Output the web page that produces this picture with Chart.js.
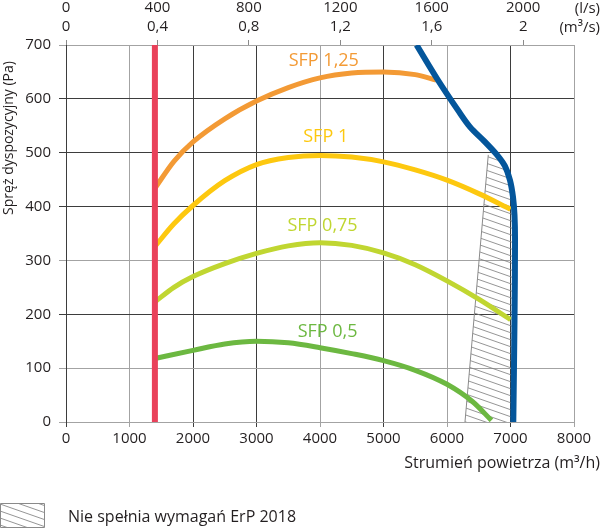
<!DOCTYPE html>
<html>
<head>
<meta charset="utf-8">
<script src="https://cdn.jsdelivr.net/npm/chart.js@4"></script>
<style>
  html, body { margin: 0; padding: 0; background: #fff; }
  #wrap { width: 601px; height: 529px; }
</style>
</head>
<body>
<div id="wrap"><canvas id="wykres"></canvas></div>
<script>
// osie
const flowTicks = [0, 1000, 2000, 3000, 4000, 5000, 6000, 7000, 8000];
const pressureTicks = [0, 100, 200, 300, 400, 500, 600, 700];
const lsTicks = [0, 400, 800, 1200, 1600, 2000];
const lsLabels = ["0", "400", "800", "1200", "1600", "2000"];
const m3sLabels = ["0", "0,4", "0,8", "1,2", "1,6", "2"];

// krzywe SFP (m3/h -> Pa)
const sfp125Flow = [1400, 1700, 2000, 2500, 3000, 3500, 4000, 4500, 5000, 5500, 5830];
const sfp125Pa = [434, 484, 520, 563, 596, 621, 639, 648, 650, 645, 635];
const sfp1Flow = [1400, 1700, 2000, 2500, 3000, 3500, 4000, 4500, 5000, 5500, 6000, 6500, 7000];
const sfp1Pa = [326, 368, 402, 448, 478, 491, 495, 492, 483, 468, 449, 424, 395];
const sfp075Flow = [1400, 1700, 2000, 2500, 3000, 3500, 4000, 4500, 5000, 5500, 6000, 6500, 7000];
const sfp075Pa = [223, 250, 270, 294, 313, 327, 333, 328, 314, 292, 262, 228, 190];
const sfp05Flow = [1400, 2000, 2500, 3000, 3500, 4000, 4500, 5000, 5500, 6000, 6400, 6700];
const sfp05Pa = [118, 133, 145, 150, 147, 138, 127, 114, 96, 70, 38, 3];

// charakterystyka maksymalna
const maxFlow = [5521, 5856, 6172, 6361, 6582, 6787, 6913, 6992, 7039, 7063, 7071, 7063, 7044];
const maxPa = [700, 635, 579, 548, 522, 496, 475, 449, 418, 384, 338, 189, 0];

// minimalny przeplyw
const minFlow = [1400, 1400];
const minPa = [0, 700];

// obszar niespelniajacy ErP 2018
const hatchFlow = [6283, 6650, 6787, 6913, 6992, 7039, 7063, 7071, 7063, 7044];
const hatchPa = [0, 496, 496, 475, 449, 418, 384, 338, 189, 0];

const sfpLabels = ["SFP 1,25", "SFP 1", "SFP 0,75", "SFP 0,5"];
const sfpLabelFlow = [4060, 4090, 4040, 4120];
const sfpLabelPa = [670, 529, 364, 167];
const sfpColors = ["#f39a35", "#fdc80f", "#c0d631", "#6cb841"];

const FONT = "'Open Sans', sans-serif";
const TEXT = "#231f20";
const DARK = "#3d3d3d";
const LIGHT = "#a3a3a3";
const xGridDark = [true, false, true, true, false, true, false, true, false];
const yGridDark = [false, false, true, false, true, true, true, false];

Chart.defaults.font.family = FONT;
Chart.defaults.color = TEXT;

function pts(xs, ys) {
  return xs.map((v, i) => ({ x: v, y: ys[i] }));
}

function hatchPattern(ctx) {
  const c = document.createElement("canvas");
  c.width = 20;
  c.height = 7;
  const g = c.getContext("2d");
  g.strokeStyle = "#7a7a7a";
  g.lineWidth = 0.8;
  for (const dy of [-7, 0, 7]) {
    g.beginPath();
    g.moveTo(0, dy);
    g.lineTo(20, dy + 7);
    g.stroke();
  }
  return ctx.createPattern(c, "repeat");
}

const opisy = {
  id: "opisy",
  beforeDatasetsDraw(chart) {
    const { ctx, scales: { x, y } } = chart;
    ctx.save();
    ctx.beginPath();
    hatchFlow.forEach((f, i) => {
      const px = x.getPixelForValue(f);
      const py = y.getPixelForValue(hatchPa[i]);
      if (i === 0) ctx.moveTo(px, py);
      else ctx.lineTo(px, py);
    });
    ctx.closePath();
    ctx.fillStyle = hatchPattern(ctx);
    ctx.fill();
    ctx.beginPath();
    ctx.moveTo(x.getPixelForValue(hatchFlow[0]), y.getPixelForValue(hatchPa[0]));
    ctx.lineTo(x.getPixelForValue(hatchFlow[1]), y.getPixelForValue(hatchPa[1]));
    ctx.strokeStyle = "#8a8a8a";
    ctx.lineWidth = 1;
    ctx.stroke();
    ctx.restore();
  },
  afterDraw(chart) {
    const { ctx, scales: { x, y } } = chart;
    ctx.save();
    ctx.textBaseline = "middle";

    ctx.font = "18px " + FONT;
    ctx.textAlign = "center";
    sfpLabels.forEach((t, i) => {
      ctx.fillStyle = sfpColors[i];
      ctx.fillText(t, x.getPixelForValue(sfpLabelFlow[i]), y.getPixelForValue(sfpLabelPa[i]));
    });

    ctx.fillStyle = TEXT;
    ctx.font = "15px " + FONT;
    ctx.textAlign = "right";
    ctx.fillText("(l/s)", 600, 9);
    ctx.fillText("(m³/s)", 600, 28);
    ctx.font = "16px " + FONT;
    ctx.fillText("Strumień powietrza (m³/h)", 600, 463);

    ctx.save();
    ctx.font = "14px " + FONT;
    ctx.translate(9, 138);
    ctx.rotate(-Math.PI / 2);
    ctx.textAlign = "center";
    ctx.fillText("Spręż dyspozycyjny (Pa)", 0, 0);
    ctx.restore();

    // legenda
    ctx.beginPath();
    ctx.rect(0.5, 503.5, 44, 24);
    ctx.fillStyle = hatchPattern(ctx);
    ctx.fill();
    ctx.strokeStyle = "#8a8a8a";
    ctx.lineWidth = 1;
    ctx.stroke();
    ctx.fillStyle = TEXT;
    ctx.font = "16px " + FONT;
    ctx.textAlign = "left";
    ctx.fillText("Nie spełnia wymagań ErP 2018", 68, 517);
    ctx.restore();
  }
};

const lineDs = (xs, ys, color, width, smooth) => ({
  data: pts(xs, ys),
  borderColor: color,
  borderWidth: width,
  pointRadius: 0,
  tension: 0.35,
  cubicInterpolationMode: smooth ? "monotone" : "default",
  fill: false
});

new Chart(document.getElementById("wykres"), {
  type: "line",
  data: {
    datasets: [
      lineDs(minFlow, minPa, "#e9415a", 6, false),
      lineDs(maxFlow, maxPa, "#04569b", 6, false),
      lineDs(sfp125Flow, sfp125Pa, sfpColors[0], 5, true),
      lineDs(sfp1Flow, sfp1Pa, sfpColors[1], 5, true),
      lineDs(sfp075Flow, sfp075Pa, sfpColors[2], 5, true),
      lineDs(sfp05Flow, sfp05Pa, sfpColors[3], 5, true)
    ]
  },
  options: {
    responsive: true,
    maintainAspectRatio: false,
    animation: false,
    layout: { padding: { left: 0, right: 27, top: 0, bottom: 0 } },
    plugins: { legend: { display: false }, tooltip: { enabled: false } },
    scales: {
      x: {
        type: "linear",
        position: "bottom",
        min: 0,
        max: 8000,
        afterBuildTicks: (s) => { s.ticks = flowTicks.map((v) => ({ value: v })); },
        afterFit: (s) => { s.height = 107; },
        ticks: { font: { size: 15 }, padding: 3, maxRotation: 0, callback: (v) => String(v) },
        grid: {
          color: (c) => (xGridDark[c.index] ? DARK : LIGHT),
          tickLength: 5
        },
        border: { color: LIGHT }
      },
      xTop: {
        type: "linear",
        position: "top",
        min: 0,
        max: 8000 / 3.6,
        afterBuildTicks: (s) => { s.ticks = lsTicks.map((v) => ({ value: v })); },
        afterFit: (s) => { s.height = 45; },
        ticks: {
          font: { size: 15, lineHeight: 1.27 },
          padding: 4,
          maxRotation: 0,
          callback: (v, i) => [lsLabels[i], m3sLabels[i]]
        },
        grid: { drawOnChartArea: false, tickLength: 5, color: "#8a8a8a" },
        border: { color: LIGHT }
      },
      y: {
        type: "linear",
        min: 0,
        max: 700,
        afterBuildTicks: (s) => { s.ticks = pressureTicks.map((v) => ({ value: v })); },
        afterFit: (s) => { s.width = 66; },
        ticks: { font: { size: 15 }, padding: 8 },
        grid: {
          color: (c) => (yGridDark[c.index] ? DARK : LIGHT),
          tickLength: 7
        },
        border: { color: DARK }
      }
    }
  },
  plugins: [opisy]
});
</script>
</body>
</html>
